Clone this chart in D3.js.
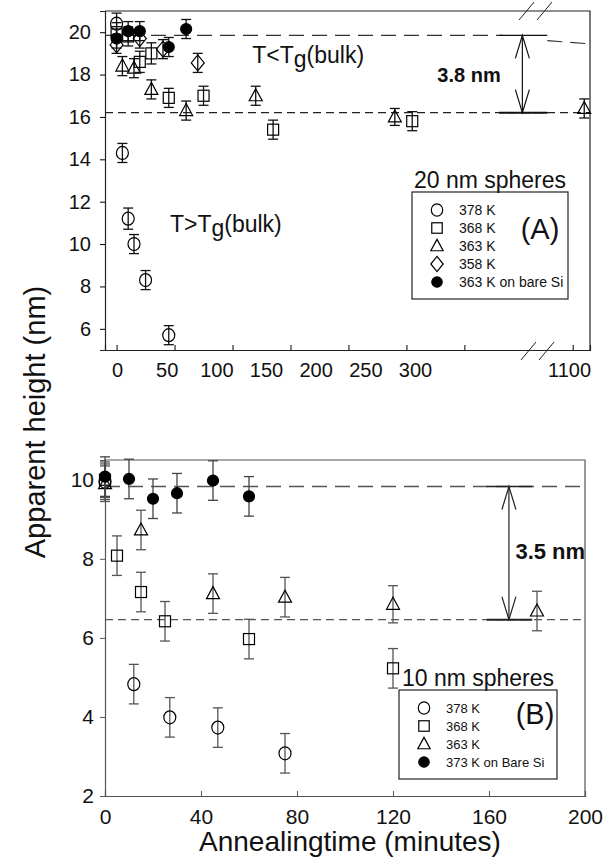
<!DOCTYPE html>
<html>
<head>
<meta charset="utf-8">
<script src="https://cdn.jsdelivr.net/npm/d3@7"></script>
<style>
body { margin: 0; background: #fff; }
text { font-family: "Liberation Sans", Arial, Helvetica, sans-serif; fill: #111; }
</style>
</head>
<body>
<svg id="chart" width="610" height="860"></svg>
<script>
// ---- panel A : 20 nm spheres ----
var tA378 = [0, 5, 10, 15, 25, 45];
var hA378 = [20.4, 14.3, 11.2, 10.0, 8.3, 5.7];
var eA378 = [0.5, 0.45, 0.5, 0.45, 0.45, 0.45];

var tA368 = [0, 10, 20, 30, 45, 75, 135, 255];
var hA368 = [20.0, 19.8, 18.6, 19.0, 16.9, 17.0, 15.4, 15.8];
var eA368 = [0.45, 0.45, 0.5, 0.5, 0.45, 0.45, 0.45, 0.45];

var tA363 = [5, 15, 30, 60, 120, 240, 1110];
var hA363 = [18.4, 18.3, 17.3, 16.3, 17.0, 16.0, 16.4];
var eA363 = [0.45, 0.45, 0.45, 0.45, 0.45, 0.4, 0.45];

var tA358 = [0, 20, 40, 70];
var hA358 = [19.4, 19.7, 19.2, 18.55];
var eA358 = [0.4, 0.45, 0.45, 0.45];

var tAsi = [0, 10, 20, 45, 60];
var hAsi = [19.7, 20.05, 20.05, 19.3, 20.15];
var eAsi = [0.45, 0.45, 0.45, 0.45, 0.45];

var ticksXA = [0, 50, 100, 150, 200, 250, 300, 1100];
var ticksYA = [6, 8, 10, 12, 14, 16, 18, 20];
var legendA = ["378 K", "368 K", "363 K", "358 K", "363 K on bare Si"];

// ---- panel B : 10 nm spheres ----
var tB378 = [0, 12, 27, 47, 75];
var hB378 = [9.95, 4.83, 3.99, 3.73, 3.08];
var eB378 = [0.45, 0.5, 0.5, 0.5, 0.5];

var tB368 = [0, 5, 15, 25, 60, 120];
var hB368 = [10.0, 8.08, 7.16, 6.42, 5.97, 5.23];
var eB368 = [0.45, 0.5, 0.5, 0.5, 0.5, 0.5];

var tB363 = [0, 15, 45, 75, 120, 180];
var hB363 = [9.9, 8.73, 7.12, 7.03, 6.85, 6.68];
var eB363 = [0.45, 0.5, 0.5, 0.5, 0.47, 0.5];

var tBsi = [0, 10, 20, 30, 45, 60];
var hBsi = [10.08, 10.02, 9.52, 9.66, 9.98, 9.58];
var eBsi = [0.5, 0.5, 0.5, 0.5, 0.5, 0.5];

var ticksXB = [0, 40, 80, 120, 160, 200];
var ticksYB = [2, 4, 6, 8, 10];
var legendB = ["378 K", "368 K", "363 K", "373 K on Bare Si"];

var svg = d3.select("#chart");

// scales (panel A has a broken time axis)
var xA = d3.scaleLinear().domain([-10, 354, 1076, 1115]).range([105, 527, 545, 590]);
// the printed tick labels of the original sit 50px apart, not on the ticks
var xALabel = d3.scaleLinear().domain([0, 300, 1100]).range([117, 415, 569]);
var yA = d3.scaleLinear().domain([5, 21]).range([350, 11]);

var xB = d3.scaleLinear().domain([0, 200]).range([105, 585]);
var yB = d3.scaleLinear().domain([2, 10.5]).range([796, 460]);

function zip(t, h, e) {
    return t.map(function (d, i) { return {t: d, h: h[i], e: e[i]}; });
}

function marker(g, type, x, y, k) {
    k = k || 1;
    var m;
    if (type === "circle") {
        m = g.append("ellipse").attr("rx", 6 * k).attr("ry", 6.5 * k).attr("fill", "none");
        m.attr("cx", x).attr("cy", y);
    } else if (type === "square") {
        m = g.append("rect").attr("x", x - 5.5 * k).attr("y", y - 5.5 * k)
            .attr("width", 11 * k).attr("height", 11 * k).attr("fill", "none");
    } else if (type === "triangle") {
        m = g.append("path").attr("fill", "none")
            .attr("d", "M" + x + "," + (y - 7 * k) + "L" + (x + 6.5 * k) + "," + (y + 5 * k) + "L" + (x - 6.5 * k) + "," + (y + 5 * k) + "Z");
    } else if (type === "diamond") {
        m = g.append("path").attr("fill", "none")
            .attr("d", "M" + x + "," + (y - 8 * k) + "L" + (x + 6.5 * k) + "," + y + "L" + x + "," + (y + 8 * k) + "L" + (x - 6.5 * k) + "," + y + "Z");
    } else {
        m = g.append("circle").attr("cx", x).attr("cy", y).attr("r", 5.5 * k).attr("fill", "#000");
    }
    m.attr("stroke", "#000").attr("stroke-width", 1.2);
}

function series(g, data, type, xs, ys, errColor) {
    var eb = g.append("g").attr("stroke", errColor).attr("stroke-width", 1.3);
    data.forEach(function (d) {
        var x = xs(d.t);
        eb.append("line").attr("x1", x).attr("x2", x).attr("y1", ys(d.h - d.e)).attr("y2", ys(d.h + d.e));
        eb.append("line").attr("x1", x - 5).attr("x2", x + 5).attr("y1", ys(d.h - d.e)).attr("y2", ys(d.h - d.e));
        eb.append("line").attr("x1", x - 5).attr("x2", x + 5).attr("y1", ys(d.h + d.e)).attr("y2", ys(d.h + d.e));
    });
    data.forEach(function (d) { marker(g, type, xs(d.t), ys(d.h)); });
}

function arrow(g, x, y1, y2, cx1, cx2, color) {
    g.append("line").attr("x1", cx1).attr("x2", cx2).attr("y1", y1).attr("y2", y1)
        .attr("stroke", color).attr("stroke-width", 1.3);
    g.append("line").attr("x1", cx1).attr("x2", cx2).attr("y1", y2).attr("y2", y2)
        .attr("stroke", color).attr("stroke-width", 2);
    g.append("line").attr("x1", x).attr("x2", x).attr("y1", y1).attr("y2", y2)
        .attr("stroke", color).attr("stroke-width", 1.2);
    g.append("path").attr("fill", "none").attr("stroke", color).attr("stroke-width", 1.2)
        .attr("d", "M" + (x - 7) + "," + (y1 + 23) + "L" + x + "," + y1 + "L" + (x + 7) + "," + (y1 + 23) +
                   "M" + (x - 7) + "," + (y2 - 23) + "L" + x + "," + y2 + "L" + (x + 7) + "," + (y2 - 23));
}

function legend(g, x, y, w, h, title, labels, types, fs) {
    g.append("text").attr("x", x + w / 2).attr("y", y - 4).attr("text-anchor", "middle")
        .style("font-size", "23px").text(title);
    g.append("rect").attr("x", x).attr("y", y).attr("width", w).attr("height", h)
        .attr("fill", "none").attr("stroke", "#222").attr("stroke-width", 1.2);
    labels.forEach(function (l, i) {
        var yy = y + 18 + i * 18;
        marker(g, types[i], x + 25, yy, 0.95);
        g.append("text").attr("x", x + 47).attr("y", yy + 5).style("font-size", fs + "px").text(l);
    });
}

// =================== PANEL A ===================
var gA = svg.append("g");

// frame top/right
gA.append("path").attr("fill", "none").attr("stroke", "#222").attr("stroke-width", 1.2)
    .attr("d", "M105," + yA(21) + "H590V" + yA(5));

gA.append("g").attr("transform", "translate(0," + yA(5) + ")")
    .call(d3.axisBottom(xA).tickValues(ticksXA).tickSize(-5).tickFormat(""))
    .call(function (s) { s.select(".domain").attr("stroke", "#222").attr("stroke-width", 1.2); });
gA.append("g").attr("transform", "translate(0," + (yA(5) + 9) + ")")
    .call(d3.axisBottom(xALabel).tickValues(ticksXA).tickSize(0).tickPadding(4).tickFormat(d3.format("d")))
    .call(function (s) {
        s.select(".domain").remove();
        s.selectAll("text").style("font-size", "20px").attr("fill", "#111");
    });
gA.append("g").attr("transform", "translate(105,0)")
    .call(d3.axisLeft(yA).tickValues(ticksYA).tickSize(5).tickPadding(9))
    .call(function (s) {
        s.select(".domain").attr("stroke", "#222").attr("stroke-width", 1.2);
        s.selectAll("text").style("font-size", "20px").attr("fill", "#111");
    });

// axis break marks
[xA(354) - 8, xA(1076) - 8].forEach(function (bx) {
    gA.append("line").attr("x1", bx).attr("x2", bx + 15).attr("y1", yA(21) + 9).attr("y2", yA(21) - 9)
        .attr("stroke", "#222").attr("stroke-width", 1);
    gA.append("line").attr("x1", bx + 2).attr("x2", bx + 17).attr("y1", yA(5) + 10).attr("y2", yA(5) - 8)
        .attr("stroke", "#222").attr("stroke-width", 1);
});

// reference levels
var refHiA = 19.85, refLoA = 16.2;
gA.append("line").attr("x1", xA(-10)).attr("x2", xA(333)).attr("y1", yA(refHiA)).attr("y2", yA(refHiA))
    .attr("stroke", "#333").attr("stroke-width", 1.2).attr("stroke-dasharray", "15,8");
gA.append("line").attr("x1", xA(1078)).attr("x2", xA(1115)).attr("y1", yA(19.6)).attr("y2", yA(19.45))
    .attr("stroke", "#333").attr("stroke-width", 1.2).attr("stroke-dasharray", "15,8");
gA.append("line").attr("x1", xA(-10)).attr("x2", xA(1115)).attr("y1", yA(refLoA)).attr("y2", yA(refLoA))
    .attr("stroke", "#222").attr("stroke-width", 1.2).attr("stroke-dasharray", "8,5");

arrow(gA, xA(350), yA(refHiA), yA(refLoA), xA(330), xA(1078), "#111");
gA.append("text").attr("x", xA(304)).attr("y", yA(17.65)).attr("text-anchor", "middle")
    .style("font-size", "20px").style("font-weight", "bold").text("3.8 nm");

var tl = gA.append("text").attr("x", xA(117)).attr("y", yA(18.55)).style("font-size", "23px");
tl.append("tspan").text("T<T");
tl.append("tspan").attr("dy", 4).text("g");
tl.append("tspan").attr("dy", -4).text("(bulk)");
var tg = gA.append("text").attr("x", xA(46)).attr("y", yA(10.57)).style("font-size", "23px");
tg.append("tspan").text("T>T");
tg.append("tspan").attr("dy", 4).text("g");
tg.append("tspan").attr("dy", -4).text("(bulk)");

series(gA, zip(tA358, hA358, eA358), "diamond", xA, yA, "#111");
series(gA, zip(tA363, hA363, eA363), "triangle", xA, yA, "#111");
series(gA, zip(tA368, hA368, eA368), "square", xA, yA, "#111");
series(gA, zip(tA378, hA378, eA378), "circle", xA, yA, "#111");
series(gA, zip(tAsi, hAsi, eAsi), "filled", xA, yA, "#111");

legend(gA, 412, 192, 156, 107, "20 nm spheres", legendA,
    ["circle", "square", "triangle", "diamond", "filled"], 14);
gA.append("text").attr("x", 540).attr("y", 239).attr("text-anchor", "middle")
    .style("font-size", "29px").text("(A)");

// =================== PANEL B ===================
var gB = svg.append("g");
gB.append("path").attr("fill", "none").attr("stroke", "#555").attr("stroke-width", 1.2)
    .attr("d", "M105," + yB(10.5) + "H585V" + yB(2));
gB.append("g").attr("transform", "translate(0," + yB(2) + ")")
    .call(d3.axisBottom(xB).tickValues(ticksXB).tickSize(-5).tickPadding(13))
    .call(function (s) {
        s.select(".domain").attr("stroke", "#555").attr("stroke-width", 1.2);
        s.selectAll(".tick line").attr("stroke", "#555");
        s.selectAll("text").style("font-size", "21px").attr("fill", "#111");
    });
gB.append("g").attr("transform", "translate(105,0)")
    .call(d3.axisLeft(yB).tickValues(ticksYB).tickSize(5).tickPadding(6))
    .call(function (s) {
        s.select(".domain").attr("stroke", "#555").attr("stroke-width", 1.2);
        s.selectAll(".tick line").attr("stroke", "#555");
        s.selectAll("text").style("font-size", "21px").attr("fill", "#111");
    });

var refHiB = 9.83, refLoB = 6.46;
gB.append("line").attr("x1", xB(0)).attr("x2", xB(200)).attr("y1", yB(refHiB)).attr("y2", yB(refHiB))
    .attr("stroke", "#555").attr("stroke-width", 1.3).attr("stroke-dasharray", "15,8");
gB.append("line").attr("x1", xB(0)).attr("x2", xB(200)).attr("y1", yB(refLoB)).attr("y2", yB(refLoB))
    .attr("stroke", "#555").attr("stroke-width", 1.3).attr("stroke-dasharray", "8,5");

arrow(gB, xB(168.3), yB(refHiB), yB(refLoB), xB(159), xB(178), "#222");
gB.append("text").attr("x", xB(171)).attr("y", yB(8.0)).style("font-size", "22px")
    .style("font-weight", "bold").text("3.5 nm");

series(gB, zip(tB363, hB363, eB363), "triangle", xB, yB, "#555");
series(gB, zip(tB368, hB368, eB368), "square", xB, yB, "#555");
series(gB, zip(tB378, hB378, eB378), "circle", xB, yB, "#555");
series(gB, zip(tBsi, hBsi, eBsi), "filled", xB, yB, "#444");

legend(gB, 399, 690, 158, 89, "10 nm spheres", legendB,
    ["circle", "square", "triangle", "filled"], 13);
gB.append("text").attr("x", 535).attr("y", 724).attr("text-anchor", "middle")
    .style("font-size", "29px").text("(B)");

// shared axis titles
svg.append("text").attr("transform", "translate(45,422) rotate(-90)").attr("text-anchor", "middle")
    .style("font-size", "29px").text("Apparent height (nm)");
svg.append("text").attr("x", 350).attr("y", 851).attr("text-anchor", "middle")
    .style("font-size", "28px").text("Annealingtime (minutes)");
</script>
</body>
</html>
